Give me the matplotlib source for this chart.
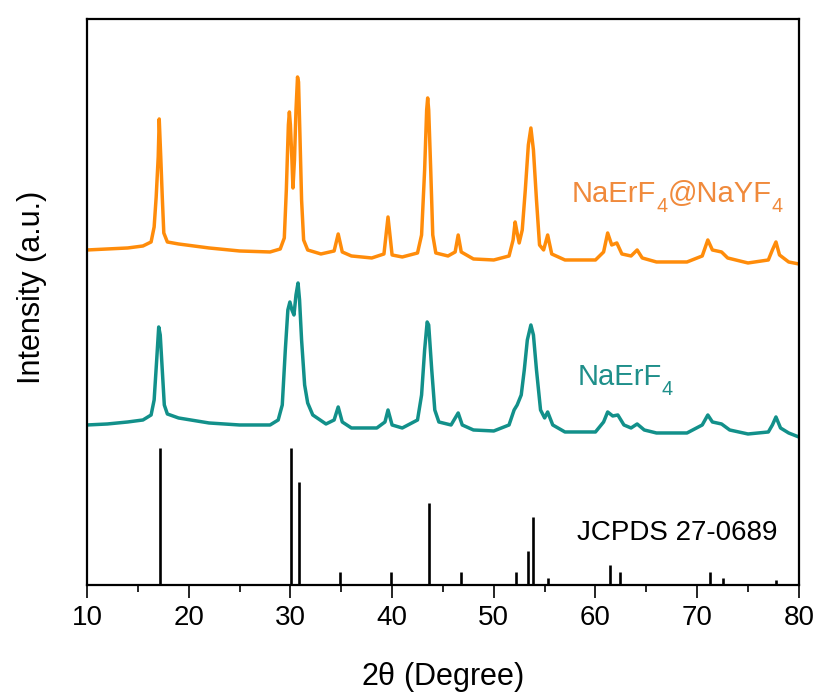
import matplotlib
matplotlib.use("Agg")
import matplotlib.pyplot as plt
from matplotlib import transforms

plt.rcParams['font.family'] = ['Liberation Sans', 'DejaVu Sans']
plt.rcParams['mathtext.fontset'] = 'custom'
plt.rcParams['mathtext.rm'] = 'Liberation Sans'
plt.rcParams['mathtext.it'] = 'Liberation Sans:italic'

# NaErF4@NaYF4 (orange) pattern
shell_x = [10, 12, 14, 15.5, 16.3, 16.6, 16.8, 17.0, 17.1, 17.25, 17.4, 17.55, 17.9, 19, 22, 25, 28,
           29.0, 29.4, 29.6, 29.8, 29.9, 30.0, 30.15, 30.25, 30.4, 30.55, 30.7, 30.8, 30.95, 31.1, 31.3, 31.7,
           33, 34.3, 34.7, 35.1, 36, 38, 39.2, 39.6, 40.0, 41, 42.5, 42.9, 43.2, 43.4, 43.5, 43.6, 43.8, 44.0,
           44.3, 45.5, 46.2, 46.5, 46.8, 48, 50, 51.5, 51.9, 52.1, 52.3, 52.5, 52.8, 53.1, 53.4, 53.65, 53.9,
           54.2, 54.5, 54.9, 55.3, 55.7, 57, 60, 60.8, 61.2, 61.6, 62.1, 62.6, 63.5, 64.1, 64.6, 66, 69, 70.5,
           71.05, 71.5, 72.4, 73, 75, 77, 77.4, 77.75, 78.1, 79, 80]
shell_y = [335, 336, 337, 339, 343, 358, 388, 428, 466, 428, 388, 352, 343, 341, 337, 334, 333,
           336, 347, 395, 460, 473, 460, 425, 397, 425, 475, 508, 503, 445, 385, 345, 335,
           331, 334, 351, 333, 329, 327, 331, 368, 330, 328, 332, 350, 415, 475, 487, 475, 415, 350,
           332, 329, 333, 350, 333, 326, 325, 329, 345, 363, 352, 342, 355, 395, 440, 457, 435,
           385, 340, 335, 350, 331, 325, 325, 333, 352, 340, 342, 331, 329, 335, 327, 323, 323, 329,
           345, 335, 333, 327, 322, 325, 335, 343, 330, 323, 321]

# NaErF4 core (teal) pattern
core_x = [10, 12, 14, 15.5, 16.3, 16.6, 16.85, 17.05, 17.2, 17.4, 17.6, 17.9, 19, 22, 25, 28,
          28.8, 29.2, 29.5, 29.75, 29.95, 30.15, 30.35, 30.55, 30.75, 30.9, 31.1, 31.4, 31.7, 32.2,
          33.5, 34.3, 34.7, 35.1, 36, 38.5, 39.3, 39.6, 40.0, 41, 42.5, 42.9, 43.2, 43.45, 43.6, 43.9,
          44.2, 44.6, 45.8, 46.5, 46.9, 48, 50, 51.5, 52.0, 52.3, 52.7, 53.0, 53.3, 53.65, 53.9, 54.2,
          54.6, 55.0, 55.3, 55.8, 57, 60, 60.8, 61.2, 61.7, 62.2, 62.8, 63.5, 64.1, 64.8, 66, 69, 70.5,
          71.05, 71.5, 72.4, 73.2, 75, 77, 77.4, 77.75, 78.2, 79, 80]
core_y = [160, 161, 163, 165, 170, 185, 225, 258, 250, 215, 180, 171, 167, 162, 160, 160,
          165, 180, 235, 275, 283, 275, 270, 290, 302, 285, 245, 200, 182, 170,
          161, 165, 178, 163, 157, 157, 163, 175, 160, 157, 165, 190, 235, 263, 260, 215,
          175, 163, 160, 172, 160, 155, 154, 160, 175, 180, 190, 215, 245, 260, 250, 215,
          175, 167, 173, 160, 153, 153, 163, 173, 169, 170, 160, 157, 161, 155, 152, 152, 160,
          170, 163, 161, 155, 151, 153, 160, 168, 157, 152, 148]

# JCPDS 27-0689 reference lines
ref_pos = [17.18, 30.06, 30.85, 34.9, 39.9, 43.6, 46.8, 52.2, 53.4, 53.9, 55.3, 61.4, 62.4, 71.3, 72.5, 77.75]
ref_int = [137, 137, 103, 13, 13, 82, 13, 13, 34, 68, 7, 20, 13, 13, 7, 5]

orange = '#ff8c0a'
teal = '#12908a'


def chem_label(ax, x, y, parts, color, size):
    # draw text piece by piece so the subscripts sit low like in the original
    fig = ax.figure
    renderer = fig.canvas.get_renderer()
    dx = 0.0
    for s, sub in parts:
        dy = -10.0 if sub else 0.0
        tr = transforms.offset_copy(ax.transData, fig=fig, x=dx, y=dy, units='dots')
        t = ax.text(x, y, s, color=color, fontsize=size * 0.68 if sub else size,
                    va='baseline', transform=tr)
        dx += t.get_window_extent(renderer).width


fig = plt.figure(figsize=(8.21, 6.95), dpi=100)
ax = fig.add_axes([0.106, 0.1583, 0.867, 0.8144])

ax.plot(shell_x, shell_y, color=orange, linewidth=2.5)
ax.plot(core_x, core_y, color=teal, linewidth=2.5)
ax.vlines(ref_pos, 0, ref_int, color='black', linewidth=1.9)

ax.set_xlim(10, 80)
ax.set_ylim(0, 566)

chem_label(ax, 57.7, 383, [('NaErF', False), ('4', True), ('@NaYF', False), ('4', True)], '#f08a3c', 21)
chem_label(ax, 58.2, 200, [('NaErF', False), ('4', True)], '#1f8f8a', 21)
ax.text(58.2, 45, 'JCPDS 27-0689', color='black', fontsize=20, va='baseline')

ax.set_xticks(range(10, 81, 10))
ax.set_xticks(range(15, 80, 10), minor=True)
ax.set_yticks([])
ax.tick_params(axis='x', which='major', length=9.5, width=1.2, direction='out', labelsize=20, pad=5)
ax.tick_params(axis='x', which='minor', length=5, width=1.2, direction='out')
for s in ax.spines.values():
    s.set_linewidth(1.6)

ax.set_xlabel(r'2$\mathregular{\theta}$ (Degree)', fontsize=22)
ax.set_ylabel('Intensity (a.u.)', fontsize=22)
ax.xaxis.set_label_coords(0.5, -0.133)
ax.yaxis.set_label_coords(-0.056, 0.525)

plt.savefig('out.png', dpi=100)
